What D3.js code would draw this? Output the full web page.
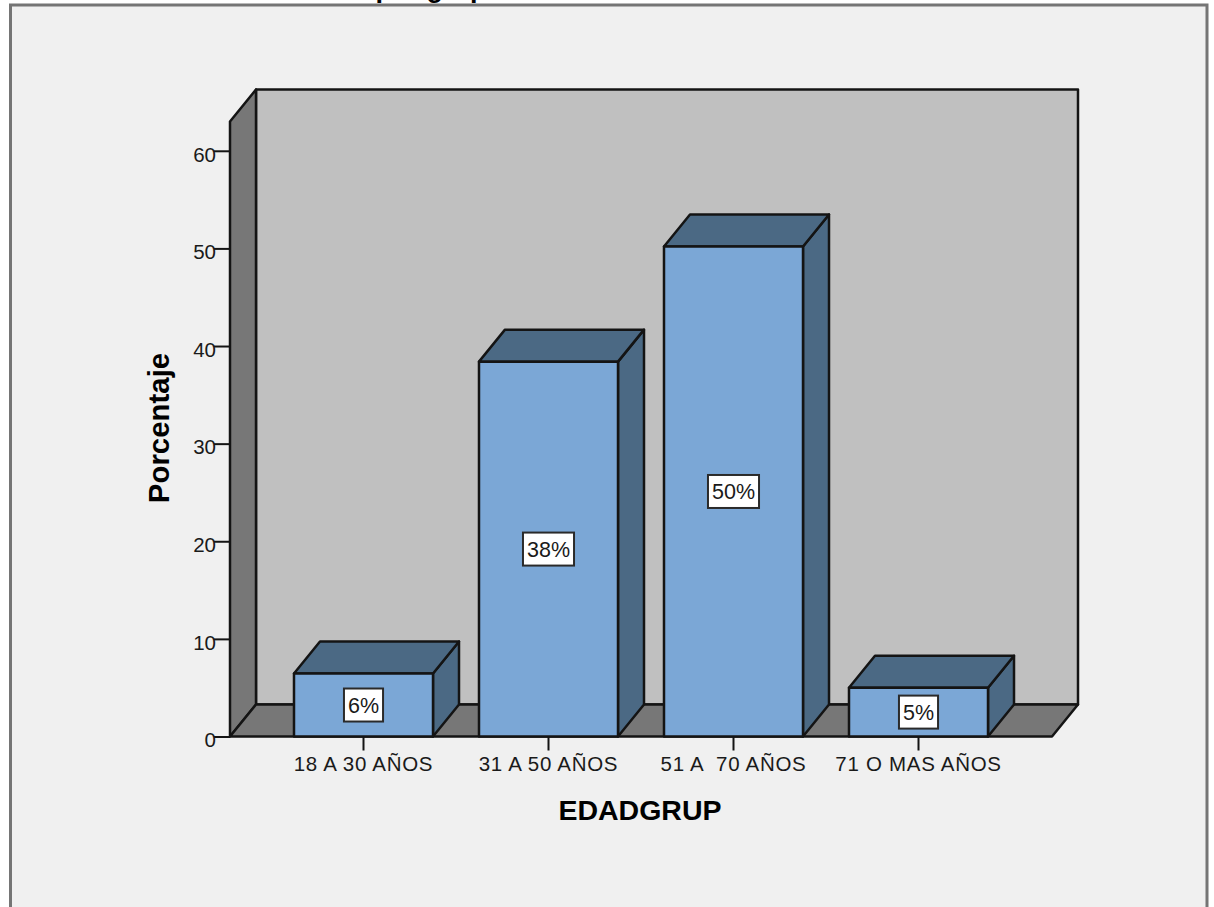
<!DOCTYPE html>
<html lang="es">
<head>
<meta charset="utf-8">
<title>EDADGRUP</title>
<script src="https://cdn.jsdelivr.net/npm/d3@7/dist/d3.min.js"></script>
<style>
  html, body { margin: 0; padding: 0; background: #fff; overflow: hidden; }
  svg { display: block; font-family: "Liberation Sans", Arial, sans-serif; }
  text { fill: #1a1a1a; white-space: pre; }
</style>
</head>
<body>
<svg id="chart" width="1214" height="907"></svg>
<script>
// Age groups and the percentage of respondents in each
const categories = ["18 A 30 AÑOS", "31 A 50 AÑOS", "51 A  70 AÑOS", "71 O MAS AÑOS"];
const percentages = [6.45, 38.4, 50.2, 5.0];
const yTicks = [0, 10, 20, 30, 40, 50, 60];
const chartTitle = "Edad por grupos";
const xTitle = "EDADGRUP";
const yTitle = "Porcentaje";

const colors = {
  page: "#f0f0f0", frame: "#757575", wall: "#c0c0c0", shade: "#777777",
  barFront: "#7ba7d6", barDark: "#4b6984", ink: "#141414"
};

const svg = d3.select("#chart");

// Scales for the front plane of the 3D box
const y = d3.scaleLinear().domain([0, 63]).range([736.5, 121.5]);
const x = d3.scaleBand().domain(categories).range([271, 1011])
  .paddingInner(0.2486).paddingOuter(0.1243);
const plotLeft = 230, plotRight = 1052;
const depth = { dx: 26, dy: -32 };

const poly = pts => pts.map(p => p.join(",")).join(" ");
const lineStyle = sel => sel.attr("stroke", colors.ink).attr("stroke-width", 2.5).attr("stroke-linejoin", "round");

// Outer panel; its bottom edge runs past the page
svg.append("rect").attr("x", 10.5).attr("y", 5).attr("width", 1196.5).attr("height", 960)
  .attr("fill", colors.page).attr("stroke", colors.frame).attr("stroke-width", 3);

svg.append("text").attr("x", 302).attr("y", -3).attr("font-size", 27).attr("font-weight", "bold")
  .style("fill", "#000").text(chartTitle);

// Back wall, left wall and floor
const plotBase = y(0), plotTop = y.range()[1];
svg.append("rect")
  .attr("x", plotLeft + depth.dx).attr("y", plotTop + depth.dy)
  .attr("width", plotRight - plotLeft).attr("height", plotBase - plotTop)
  .attr("fill", colors.wall).call(lineStyle);
svg.append("polygon")
  .attr("points", poly([[plotLeft, plotBase], [plotLeft + depth.dx, plotBase + depth.dy],
    [plotLeft + depth.dx, plotTop + depth.dy], [plotLeft, plotTop]]))
  .attr("fill", colors.shade).call(lineStyle);
svg.append("polygon")
  .attr("points", poly([[plotLeft, plotBase], [plotLeft + depth.dx, plotBase + depth.dy],
    [plotRight + depth.dx, plotBase + depth.dy], [plotRight, plotBase]]))
  .attr("fill", colors.shade).call(lineStyle);

// Axes
const yAxis = svg.append("g").attr("transform", `translate(${plotLeft},0)`)
  .call(d3.axisLeft(y).tickValues(yTicks).tickSize(16).tickPadding(-2));
const xAxis = svg.append("g").attr("transform", `translate(0,${plotBase})`)
  .call(d3.axisBottom(x).tickSize(14).tickPadding(5));
[yAxis, xAxis].forEach(axis => {
  axis.select(".domain").remove();
  axis.selectAll(".tick line").attr("stroke", colors.ink).attr("stroke-width", 2);
  axis.selectAll(".tick text").attr("font-size", 20.5)
    .attr("font-family", '"Liberation Sans", Arial, sans-serif').style("fill", "#1a1a1a");
});
yAxis.selectAll(".tick text").attr("dy", "0.5em");
xAxis.selectAll(".tick text").attr("dy", "0.74em").attr("letter-spacing", 0.7);

// 3D bars: side face, top face, then the front face
const bars = svg.selectAll("g.bar").data(categories.map((c, i) => ({ c, v: percentages[i] })))
  .join("g").attr("class", "bar");
bars.each(function (d) {
  const g = d3.select(this);
  const l = x(d.c), r = l + x.bandwidth(), t = y(d.v);
  g.append("polygon")
    .attr("points", poly([[r, plotBase], [r + depth.dx, plotBase + depth.dy], [r + depth.dx, t + depth.dy], [r, t]]))
    .attr("fill", colors.barDark).call(lineStyle);
  g.append("polygon")
    .attr("points", poly([[l, t], [l + depth.dx, t + depth.dy], [r + depth.dx, t + depth.dy], [r, t]]))
    .attr("fill", colors.barDark).call(lineStyle);
  g.append("rect").attr("x", l).attr("y", t).attr("width", r - l).attr("height", plotBase - t)
    .attr("fill", colors.barFront).call(lineStyle);

  // Value tag centred on the front face
  const cx = (l + r) / 2, cy = y(d.v / 2);
  const box = g.append("rect").attr("fill", "#fff").attr("stroke", "#2a2a2a").attr("stroke-width", 2);
  const label = g.append("text").attr("x", cx).attr("y", cy).attr("dy", "0.36em")
    .attr("text-anchor", "middle").attr("font-size", 21.5).text(d3.format(".0f")(d.v) + "%");
  const w = label.node().getComputedTextLength() + 8;
  box.attr("x", cx - w / 2).attr("y", cy - 16.5).attr("width", w).attr("height", 33);
});

// Axis titles
svg.append("text").attr("x", 640).attr("y", 820).attr("text-anchor", "middle")
  .attr("font-size", 28.5).attr("font-weight", "bold").style("fill", "#000").text(xTitle);
svg.append("text").attr("transform", "translate(169,428) rotate(-90)").attr("text-anchor", "middle")
  .attr("font-size", 29.4).attr("font-weight", "bold").style("fill", "#000").text(yTitle);
</script>
</body>
</html>
